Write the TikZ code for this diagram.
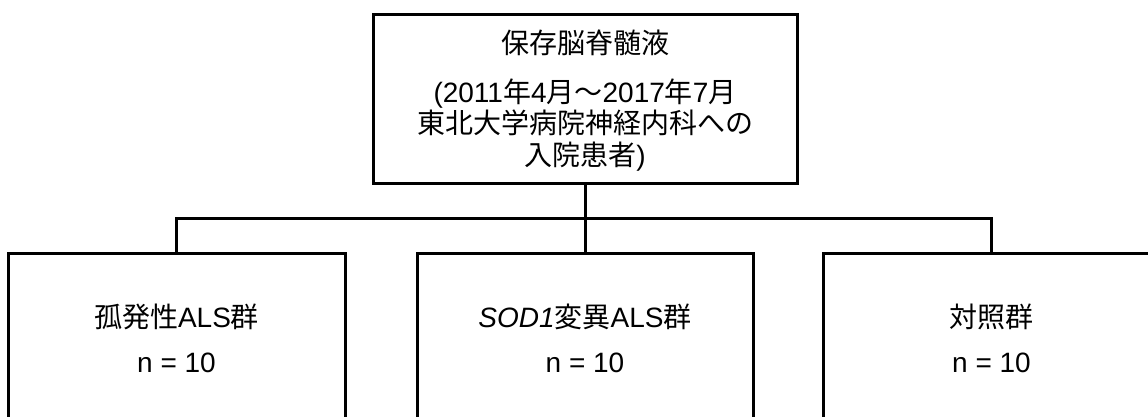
\documentclass[tikz,border=0pt]{standalone}
\usepackage{fontspec}
\setmainfont{Liberation Sans}
\newfontfamily\jp{Noto Sans CJK JP}
\newcommand\J[1]{{\jp #1}}
\begin{document}
\begin{tikzpicture}[x=1pt,y=-1pt,
  box/.style={draw=black,line width=3pt,minimum width=#1,inner sep=0pt},
  conn/.style={draw=black,line width=3pt},
  txt/.style={font=\fontsize{28}{31.5}\selectfont,anchor=base,inner sep=0pt,align=center}]
\useasboundingbox[fill=white] (0,0) rectangle (1148,416);
\clip (0,0) rectangle (1148,416);
% boxes
\node[box=424pt,minimum height=169pt] (top) at (585,98.5) {};
\node[box=337pt,minimum height=190pt] (b1) at (176.5,348) {};
\node[box=336pt,minimum height=190pt] (b2) at (585,348) {};
\node[box=337pt,minimum height=190pt] (b3) at (991.5,348) {};
% texts
\node[txt] (t0) at (585,53) {\J{保存脳脊髄液}};
\node[txt] (t1) at (585,102) {(2011\J{年}4\J{月～}2017\J{年}7\J{月}};
\node[txt] (t2) at (585,133.5) {\J{東北大学病院神経内科への}};
\node[txt] (t3) at (585,165) {\J{入院患者})};
\node[txt] (l1) at (176.5,327) {\J{孤発性}ALS\J{群}};
\node[txt] (n1) at (176.5,372) {n = 10};
\node[txt] (l2) at (585,327) {\textit{SOD1}\J{変異}ALS\J{群}};
\node[txt] (n2) at (585,372) {n = 10};
\node[txt] (l3) at (991.5,327) {\J{対照群}};
\node[txt] (n3) at (991.5,372) {n = 10};
% connectors
\coordinate (h) at (585,218);
\draw[conn] (top.south) -- (b2.north);
\draw[conn] (b1.north) |- (h) -| (b3.north);
\end{tikzpicture}
\end{document}
